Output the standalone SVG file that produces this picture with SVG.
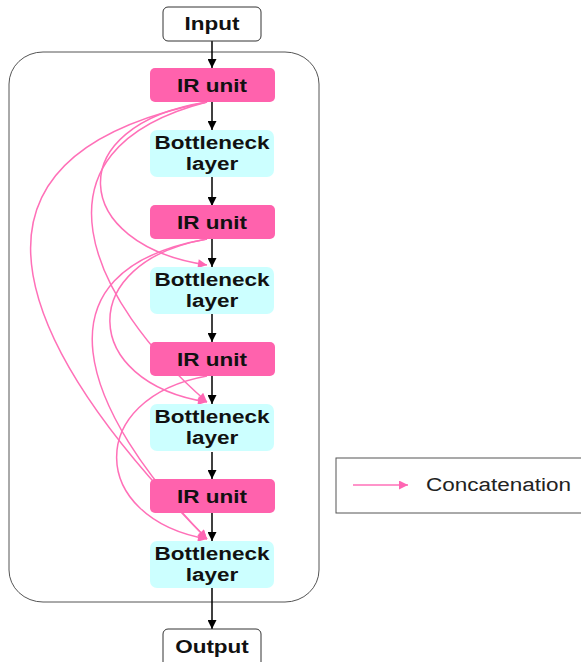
<svg xmlns="http://www.w3.org/2000/svg" width="581" height="662" viewBox="0 0 581 662">
  <style>
    .lbl { font-family: "Liberation Sans", Arial, sans-serif; font-weight: bold; font-size: 18px; fill: #111; text-anchor: middle; }
    .leg { font-family: "Liberation Sans", Arial, sans-serif; font-size: 18px; fill: #222; }
    .io { fill: #ffffff; stroke: #333; stroke-width: 1; }
    .ir { fill: #ff62ad; }
    .bn { fill: #ccffff; }
    .flow { stroke: #000; stroke-width: 1.5; fill: none; marker-end: url(#ab); }
    .cat { stroke: #ff70b8; stroke-width: 1.5; fill: none; marker-end: url(#ap); }
  </style>
  <defs>
    <marker id="ab" viewBox="0 0 10 10" refX="10" refY="5" markerWidth="10" markerHeight="9" markerUnits="userSpaceOnUse" orient="auto">
      <path d="M0,0 L10,5 L0,10 z" fill="#000"/>
    </marker>
    <marker id="ap" viewBox="0 0 10 10" refX="10" refY="5" markerWidth="11" markerHeight="9" markerUnits="userSpaceOnUse" orient="auto">
      <path d="M0,0 L10,5 L0,10 z" fill="#ff66b3"/>
    </marker>
  </defs>

  <!-- block container -->
  <rect id="block" x="9" y="52" width="310" height="550" rx="34" ry="32" fill="#fff" stroke="#555" stroke-width="1"/>

  <!-- connectors -->
  <g id="connectors">
    <!-- main data path -->
    <path class="flow" d="M212,41 V68"/>
    <path class="flow" d="M212,102 V130"/>
    <path class="flow" d="M212,177 V206"/>
    <path class="flow" d="M212,239 V267"/>
    <path class="flow" d="M212,314 V342"/>
    <path class="flow" d="M212,376 V404"/>
    <path class="flow" d="M212,452 V479"/>
    <path class="flow" d="M212,513 V541"/>
    <path class="flow" d="M212,588 V629"/>
    <!-- dense concatenations: IR unit i to every later bottleneck -->
    <path class="cat" d="M207,102 C60,125 70,245 207,265"/>
    <path class="cat" d="M207,102 C20,150 90,300 207,402"/>
    <path class="cat" d="M207,102 C-80,160 30,360 207,539"/>
    <path class="cat" d="M207,239 C75,262 80,382 207,402"/>
    <path class="cat" d="M207,239 C30,270 80,410 207,539"/>
    <path class="cat" d="M207,376 C85,398 88,518 207,539"/>
  </g>

  <g id="input">
    <rect class="io" x="163" y="7" width="98" height="34" rx="5"/>
    <text class="lbl" transform="translate(212 30) scale(1.25 1)">Input</text>
  </g>

  <g id="ir1">
    <rect class="ir" x="150" y="68" width="125" height="34" rx="5"/>
    <text class="lbl" transform="translate(212 92) scale(1.25 1)">IR unit</text>
  </g>
  <g id="bn1">
    <rect class="bn" x="150" y="130" width="124" height="47" rx="7"/>
    <text class="lbl" transform="translate(212 149) scale(1.25 1)">Bottleneck</text>
    <text class="lbl" transform="translate(212 170) scale(1.25 1)">layer</text>
  </g>

  <g id="ir2">
    <rect class="ir" x="150" y="205" width="125" height="34" rx="5"/>
    <text class="lbl" transform="translate(212 229) scale(1.25 1)">IR unit</text>
  </g>
  <g id="bn2">
    <rect class="bn" x="150" y="267" width="124" height="47" rx="7"/>
    <text class="lbl" transform="translate(212 286) scale(1.25 1)">Bottleneck</text>
    <text class="lbl" transform="translate(212 307) scale(1.25 1)">layer</text>
  </g>

  <g id="ir3">
    <rect class="ir" x="150" y="342" width="125" height="34" rx="5"/>
    <text class="lbl" transform="translate(212 366) scale(1.25 1)">IR unit</text>
  </g>
  <g id="bn3">
    <rect class="bn" x="150" y="404" width="124" height="47" rx="7"/>
    <text class="lbl" transform="translate(212 423) scale(1.25 1)">Bottleneck</text>
    <text class="lbl" transform="translate(212 444) scale(1.25 1)">layer</text>
  </g>

  <g id="ir4">
    <rect class="ir" x="150" y="479" width="125" height="34" rx="5"/>
    <text class="lbl" transform="translate(212 503) scale(1.25 1)">IR unit</text>
  </g>
  <g id="bn4">
    <rect class="bn" x="150" y="541" width="124" height="47" rx="7"/>
    <text class="lbl" transform="translate(212 560) scale(1.25 1)">Bottleneck</text>
    <text class="lbl" transform="translate(212 581) scale(1.25 1)">layer</text>
  </g>

  <g id="output">
    <rect class="io" x="163" y="629" width="98" height="40" rx="5"/>
    <text class="lbl" transform="translate(212 653) scale(1.25 1)">Output</text>
  </g>

  <!-- legend -->
  <g id="legend">
    <rect x="336" y="458" width="260" height="55" fill="#fff" stroke="#555" stroke-width="1"/>
    <path d="M353,485 H408" stroke="#ff70b8" stroke-width="1.5" fill="none" marker-end="url(#ap)"/>
    <text class="leg" transform="translate(426 491) scale(1.25 1)">Concatenation</text>
  </g>
</svg>
